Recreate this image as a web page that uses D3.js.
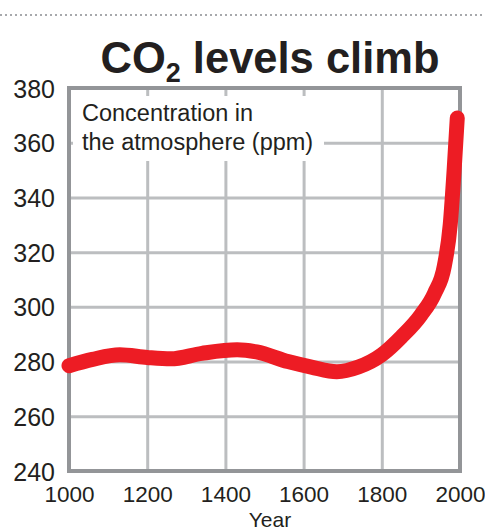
<!DOCTYPE html>
<html lang="en">
<head>
    <meta charset="UTF-8">
    <title>CO2 levels climb</title>
    <script src="https://d3js.org/d3.v7.min.js"></script>
    <style>
        body {
            margin: 0;
            background: #fff;
            font-family: "Liberation Sans", Arial, sans-serif;
        }
        .tick text {
            fill: #231f20;
        }
    </style>
</head>
<body>
    <div id="chart"></div>
    <script>
        // Data
        const years = [1000, 1060, 1130, 1200, 1260, 1340, 1430, 1480, 1560, 1620, 1685, 1740, 1800, 1850, 1900, 1935, 1960, 1975, 1985, 1993];
        const ppm = [278.5, 280.8, 282.5, 281.5, 281, 283, 284.3, 283.5, 280, 278, 276.3, 278, 282.5, 289, 297, 305, 315, 330, 350, 369];
        const xTicks = [1000, 1200, 1400, 1600, 1800, 2000];
        const yTicks = [240, 260, 280, 300, 320, 340, 360, 380];

        const data = years.map((y, i) => ({year: y, value: ppm[i]}));

        const W = 485, H = 531;
        const margin = {top: 88, right: 25, bottom: 60, left: 69};

        const svg = d3.select("#chart")
            .append("svg")
            .attr("width", W)
            .attr("height", H);

        const x = d3.scaleLinear()
            .domain([1000, 2000])
            .range([margin.left, W - margin.right]);

        const y = d3.scaleLinear()
            .domain([240, 380])
            .range([H - margin.bottom, margin.top]);

        // dotted rule at top
        svg.append("line")
            .attr("x1", 0).attr("x2", W)
            .attr("y1", 15).attr("y2", 15)
            .attr("stroke", "#a7a9ac")
            .attr("stroke-width", 2)
            .attr("stroke-dasharray", "2,3");

        // title
        const title = svg.append("text")
            .attr("x", 270)
            .attr("y", 73)
            .attr("text-anchor", "middle")
            .attr("font-weight", "bold")
            .attr("font-size", 43.5)
            .attr("fill", "#231f20");
        title.append("tspan").text("CO");
        title.append("tspan").text("2").attr("font-size", 27).attr("dy", 9);
        title.append("tspan").text(" levels climb").attr("dy", -9);

        // grid
        svg.append("g")
            .attr("transform", `translate(0,${H - margin.bottom})`)
            .call(d3.axisBottom(x).tickValues(xTicks)
                .tickSize(-(H - margin.top - margin.bottom))
                .tickFormat(d3.format("d")))
            .call(g => g.select(".domain").remove())
            .call(g => g.selectAll(".tick line")
                .attr("stroke", "#bcbec0")
                .attr("stroke-width", 3))
            .call(g => g.selectAll(".tick text")
                .attr("font-size", 22.5)
                .attr("font-family", "Liberation Sans, Arial, sans-serif")
                .attr("dy", 0)
                .attr("y", 31));

        svg.append("g")
            .attr("transform", `translate(${margin.left},0)`)
            .call(d3.axisLeft(y).tickValues(yTicks)
                .tickSize(-(W - margin.left - margin.right))
                .tickPadding(14))
            .call(g => g.select(".domain").remove())
            .call(g => g.selectAll(".tick line")
                .attr("stroke", "#bcbec0")
                .attr("stroke-width", 3))
            .call(g => g.selectAll(".tick text")
                .attr("font-size", 25)
                .attr("font-family", "Liberation Sans, Arial, sans-serif")
                .attr("dy", "0.36em"));

        // white box behind note
        svg.append("rect")
            .attr("x", 73).attr("y", 96)
            .attr("width", 251).attr("height", 65)
            .attr("fill", "#fff");

        const note = svg.append("text")
            .attr("font-size", 23.5)
            .attr("fill", "#231f20");
        note.append("tspan").attr("x", 82).attr("y", 121).text("Concentration in");
        note.append("tspan").attr("x", 82).attr("y", 150).text("the atmosphere (ppm)");

        // frame
        svg.append("rect")
            .attr("x", margin.left)
            .attr("y", margin.top)
            .attr("width", W - margin.left - margin.right)
            .attr("height", H - margin.top - margin.bottom)
            .attr("fill", "none")
            .attr("stroke", "#939598")
            .attr("stroke-width", 4);

        // line
        const line = d3.line()
            .x(d => x(d.year))
            .y(d => y(d.value))
            .curve(d3.curveMonotoneX);

        svg.append("path")
            .datum(data)
            .attr("d", line)
            .attr("fill", "none")
            .attr("stroke", "#ed1c24")
            .attr("stroke-width", 15)
            .attr("stroke-linecap", "round")
            .attr("stroke-linejoin", "round");

        // axis title
        svg.append("text")
            .attr("x", 270)
            .attr("y", 527)
            .attr("text-anchor", "middle")
            .attr("font-size", 21)
            .attr("fill", "#231f20")
            .text("Year");
    </script>
</body>
</html>
